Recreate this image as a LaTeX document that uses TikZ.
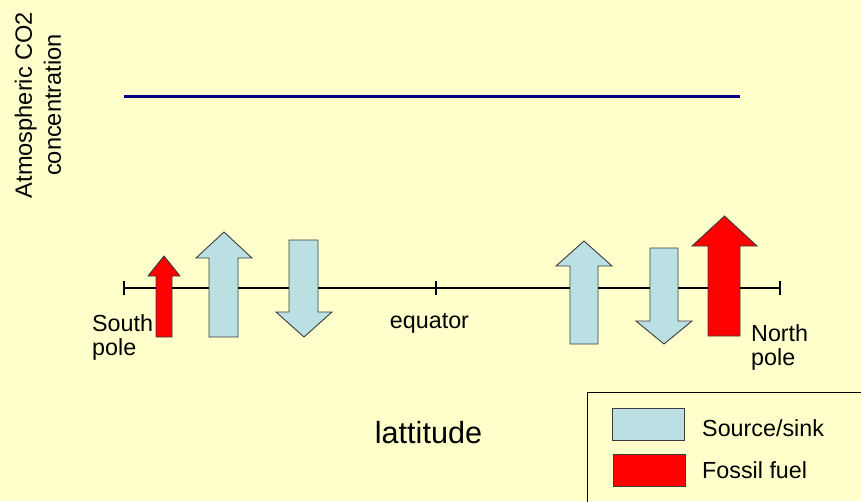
\documentclass[tikz,border=0pt]{standalone}
\usepackage{fontspec}
\setmainfont{Liberation Sans}
\definecolor{bgc}{RGB}{255,255,204}
\definecolor{sinkblue}{RGB}{187,224,227}
\definecolor{navyline}{RGB}{0,0,128}
\definecolor{edgegray}{RGB}{60,60,60}
\begin{document}
\begin{tikzpicture}[x=1pt,y=-1pt,
  txt/.style={font=\fontsize{23.3}{23.5}\selectfont, inner sep=0pt, align=center},
  sinkarrow/.style={fill=sinkblue, draw=edgegray, line width=0.9pt, line join=miter},
  fossilarrow/.style={fill=red, draw=edgegray, line width=0.9pt, line join=miter},
  axisline/.style={draw=black, line width=1.6pt}]
\fill[bgc] (0,0) rectangle (861,501);
\useasboundingbox (0,0) rectangle (861,501);

% y-axis label
\node[font=\fontsize{23.6}{29}\selectfont, inner sep=0pt, align=center, rotate=90] (ylab) at (38,105) {Atmospheric CO2\\concentration};

% CO2 concentration line
\coordinate (c1) at (124,96);
\coordinate (c2) at (740,96);
\draw[navyline, line width=3pt] (c1) -- (c2);

% latitude axis
\coordinate (sp) at (124,288);
\coordinate (eq) at (436,288);
\coordinate (np) at (780,288);
\draw[axisline] (sp) -- (np);
\foreach \t in {sp,eq,np}{
  \draw[axisline] ([yshift=-7pt]\t) -- ([yshift=7pt]\t);
}

% arrows
\path[fossilarrow] (156,337) -- (156,276) -- (148,276) -- (164,256) -- (180,276) -- (172,276) -- (172,337) -- cycle;
\path[sinkarrow] (209,337) -- (209,258) -- (196,258) -- (224,232) -- (252,258) -- (238,258) -- (238,337) -- cycle;
\path[sinkarrow] (289,240) -- (289,312) -- (276,312) -- (304,337) -- (332,312) -- (318,312) -- (318,240) -- cycle;
\path[sinkarrow] (570,344) -- (570,266) -- (556,266) -- (584,241) -- (612,266) -- (598,266) -- (598,344) -- cycle;
\path[sinkarrow] (650,248) -- (650,321) -- (636,321) -- (664,344) -- (692,321) -- (678,321) -- (678,248) -- cycle;
\path[fossilarrow] (708,336) -- (708,246) -- (692,246) -- (724.5,216) -- (757,246) -- (740,246) -- (740,336) -- cycle;

% labels
\node[txt, anchor=base west, align=left] (south) at (92,355) {South\\pole};
\node[txt, anchor=base] (equator) at (429.5,328) {equator};
\node[txt, anchor=base west, align=left] (north) at (751,365) {North\\pole};
\node[inner sep=0pt, anchor=base, font=\fontsize{30.6}{34}\selectfont] (lat) at (428.5,443) {lattitude};

% legend
\draw[black, line width=0.9pt] (587,392) rectangle (880,520);
\path[sinkarrow] (612,408) rectangle (684,440);
\path[fossilarrow] (613,454) rectangle (685,486);
\node[txt, anchor=base west] (leg1) at (702,436) {Source/sink};
\node[txt, anchor=base west] (leg2) at (702,478) {Fossil fuel};
\end{tikzpicture}
\end{document}
